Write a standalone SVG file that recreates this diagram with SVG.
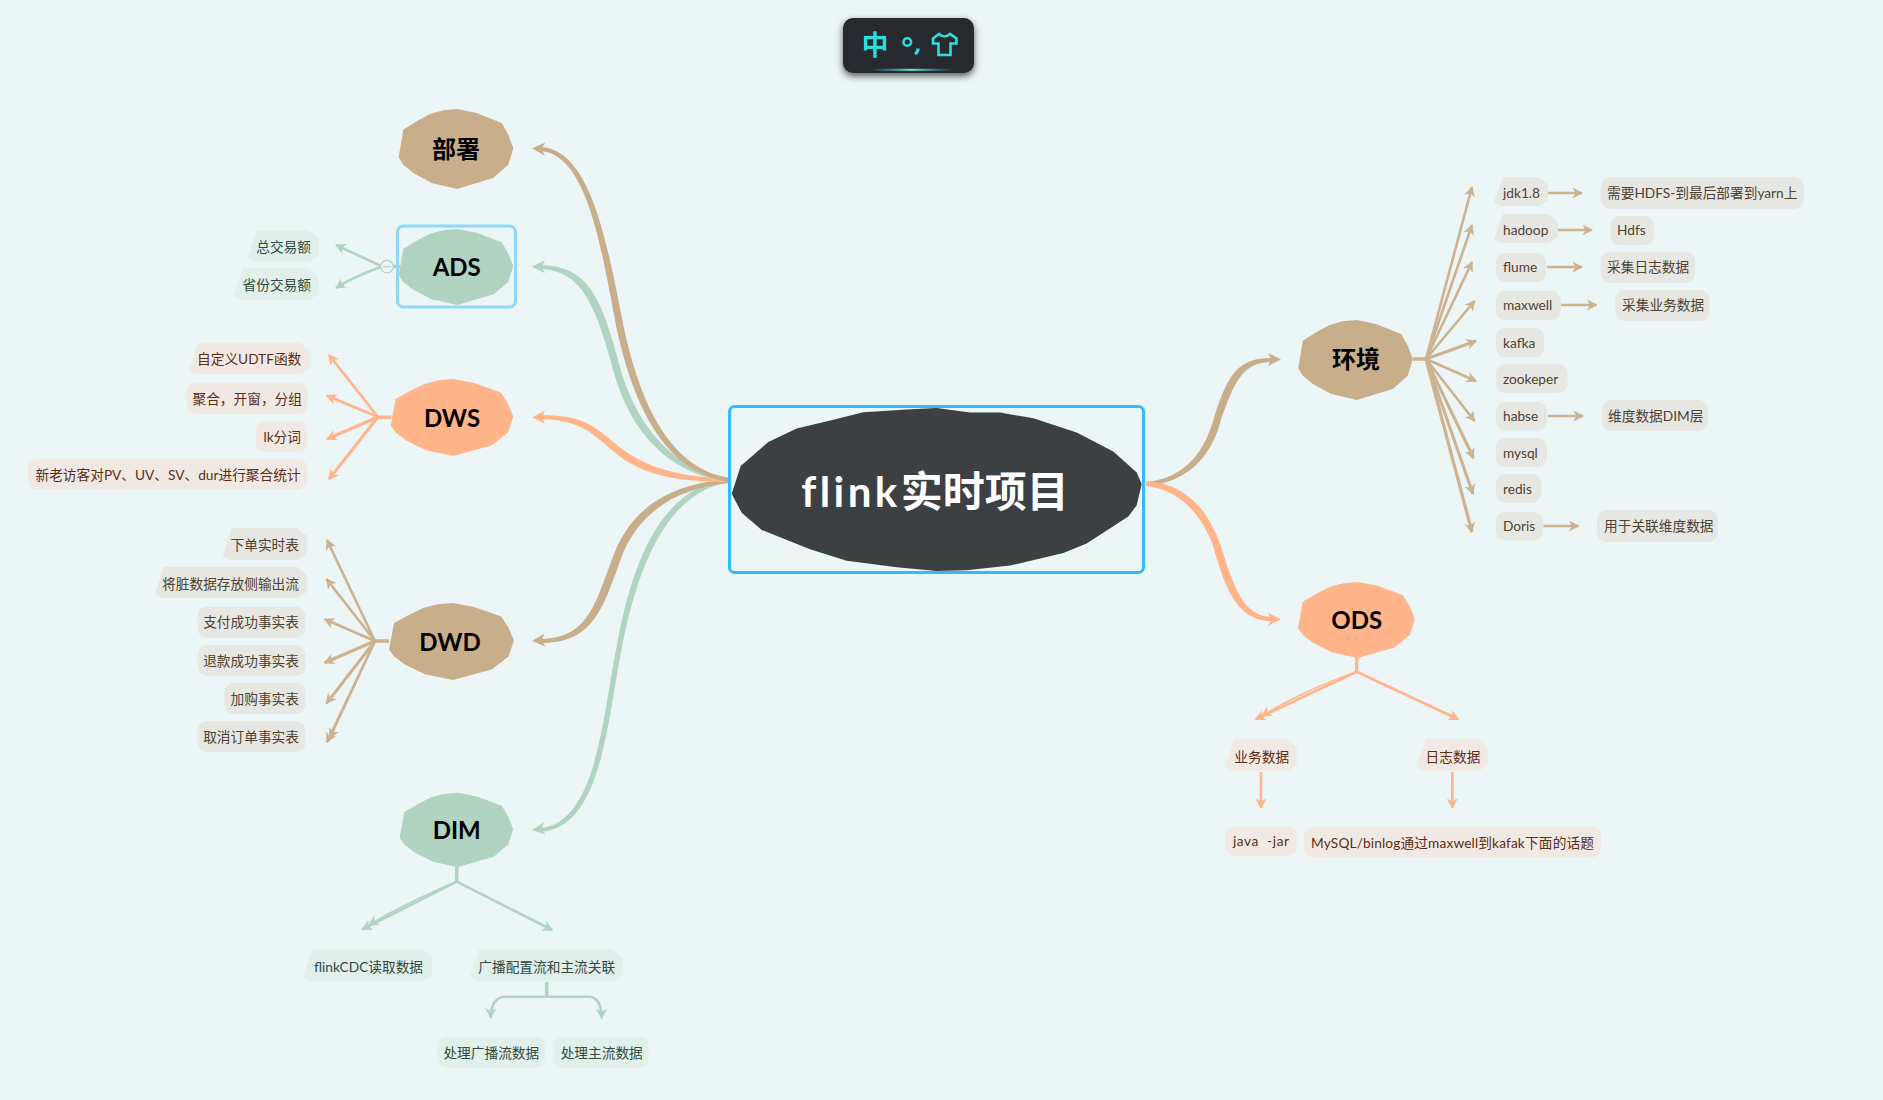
<svg xmlns="http://www.w3.org/2000/svg" width="1883" height="1100" viewBox="0 0 1883 1100">
<style>
text{font-family:"Lato","Noto Sans CJK SC","Noto Sans",sans-serif;dominant-baseline:central}
.l{font-size:13.7px;transform:translateY(-1px)}
.e{text-anchor:end}.m{text-anchor:middle}
.tt{fill:#4d4231}.ot{fill:#5c2c14}.gt{fill:#2f4a3f}
.tp{fill:#e7e8e3}.op{fill:#f1eae4}.gp{fill:#e2f0ec}
.hd{font-size:24px;font-weight:700;fill:#000;text-anchor:middle}
.tl{fill:none;stroke:#cdb28f;stroke-width:2.6;marker-end:url(#at)}
.ol{fill:none;stroke:#ffb48a;stroke-width:2.6;marker-end:url(#ao)}
.gl{fill:none;stroke:#b0d3c2;stroke-width:2.6;marker-end:url(#ag)}
.ts{fill:none;stroke:#cdb28f;stroke-width:3.5}
.os{fill:none;stroke:#ffb48a;stroke-width:3.5}
.gs{fill:none;stroke:#b0d3c2;stroke-width:3.5}
.tf{fill:#c9ae8c}.of{fill:#ffb48a}.gf{fill:#b0d3c2}
</style>
<defs>
<polygon id="blob" points="-57.3,8.3 -52.7,-19.3 -39.3,-27.7 -26,-35 -12.7,-38.7 1.3,-40 20.7,-36 45.7,-26 52.3,-14.3 57.3,-1 52.3,15.7 37.3,29 20.7,34 1.3,40 -24.3,34 -42.7,24 -52.7,15.7"/>
<path id="head" d="M0 0L-13 -6.5L-9.5 0L-13 6.5Z"/>
<marker id="at" markerUnits="userSpaceOnUse" markerWidth="12" markerHeight="12" refX="9.5" refY="5.5" orient="auto"><path d="M0 0L10.5 5.5L0 11L3 5.5Z" fill="#cdb28f"/></marker>
<marker id="ao" markerUnits="userSpaceOnUse" markerWidth="12" markerHeight="12" refX="9.5" refY="5.5" orient="auto"><path d="M0 0L10.5 5.5L0 11L3 5.5Z" fill="#ffb48a"/></marker>
<marker id="ag" markerUnits="userSpaceOnUse" markerWidth="12" markerHeight="12" refX="9.5" refY="5.5" orient="auto"><path d="M0 0L10.5 5.5L0 11L3 5.5Z" fill="#b0d3c2"/></marker>
<filter id="sh" x="-20%" y="-30%" width="140%" height="170%"><feDropShadow dx="0" dy="3" stdDeviation="3.5" flood-color="#000" flood-opacity=".65"/></filter>
<linearGradient id="gl"><stop offset="0" stop-color="#33dfe0" stop-opacity="0"/><stop offset=".5" stop-color="#5eeeee"/><stop offset="1" stop-color="#33dfe0" stop-opacity="0"/></linearGradient>
</defs>
<rect width="1883" height="1100" fill="#ecf6f7"/>

<g id="connectors">
<path class="gf" d="M730 482C678 490 643 542 622.5 644C607 722 602 827 541 832L541 828C597 822 602 718 617.5 642C637 538 672 486 730 478Z"/>
<path class="tf" d="M730 483C682 487 643 508 623.5 552C604 603 597 643 541 643L541 639C592 638 596 598 616.5 548C637 502 678 483 730 479Z"/>
<path class="gf" d="M730 482C678 476 636 442 616.5 381C597 312 586 271 541 269L541 265C594 266 604 308 623.5 379C644 438 682 472 730 478Z"/>
<path class="of" d="M730 482C688 482 647 478 618 455C593 435 583 420 541 419L541 415C587 415 597 429 622 449C653 472 692 478 730 478Z"/>
<path class="tf" d="M730 482C673 474 637 422 616.5 328C602 252 588 155 541 151L541 147C592 150 608 248 623.5 326C643 418 677 470 730 478Z"/>
<path class="tf" d="M1146 486C1192 482 1213 452 1221.5 418C1235 381 1243 362 1272 362L1272 358C1237 358 1228 375 1214.5 416C1206 448 1188 478 1146 482Z"/>
<path class="of" d="M1146 486C1183 490 1202 518 1212.5 544C1226 592 1238 621 1272 621L1272 617C1243 616 1234 588 1219.5 542C1208 512 1188 484 1146 481Z"/>
<g class="tf"><use href="#head" transform="translate(532 148.3) rotate(183)"/><use href="#head" transform="translate(532 641) rotate(176)"/><use href="#head" transform="translate(1281 359.5)"/></g>
<g class="gf"><use href="#head" transform="translate(532 266.7) rotate(180)"/><use href="#head" transform="translate(532 830) rotate(173)"/></g>
<g class="of"><use href="#head" transform="translate(532 417.3) rotate(180)"/><use href="#head" transform="translate(1281 619.3)"/></g>

<!-- 环境 -->
<path class="ts" d="M1413 359H1427"/>
<path class="tl" d="M1426 359L1472 187"/><path class="tl" d="M1426 359L1472 225"/><path class="tl" d="M1426 359L1472 262"/><path class="tl" d="M1426 359L1474.6 301"/>
<path class="tl" style="stroke-width:3" d="M1426 359L1476 341"/><path class="tl" d="M1426 359L1476 381"/><path class="tl" d="M1426 359L1474.6 421"/><path class="tl" style="stroke-width:3" d="M1426 359L1473.5 458"/><path class="tl" style="stroke-width:3" d="M1426 359L1473 494"/><path class="tl" style="stroke-width:3.2" d="M1426 359L1472 532"/>
<path class="tl" d="M1547 193H1582"/><path class="tl" d="M1556.5 230H1592"/><path class="tl" d="M1547 267H1582"/><path class="tl" d="M1561 305H1596.5"/><path class="tl" d="M1548 416H1583"/><path class="tl" d="M1543.5 526H1578.5"/>
<!-- ODS -->
<path class="os" d="M1356.7 657V672"/>
<path class="ol" d="M1356.7 671.7L1255.7 719.3"/><path class="ol" style="stroke-width:1.6" d="M1356.7 671.7Q1300 692 1262 716"/><path class="ol" d="M1356.7 671.7L1458.3 719.3"/>
<path class="ol" d="M1261 772V808"/><path class="ol" d="M1452.3 772V808"/>
<!-- ADS -->
<path class="gs" d="M393 266.5H400"/>
<path class="gl" d="M381 266L336 245"/><path class="gl" d="M381 267Q355 276 336 288"/>
<!-- DWS -->
<path class="os" d="M378 417.3H391"/>
<path class="ol" d="M378 417L329 355"/><path class="ol" d="M378 417L327 395.7"/><path class="ol" style="stroke-width:3" d="M378 417L327 439"/><path class="ol" style="stroke-width:3" d="M378 417L329 479.3"/>
<!-- DWD -->
<path class="ts" d="M375 641H389"/>
<path class="tl" d="M375 641L327 540"/><path class="tl" d="M375 641L326.5 579"/><path class="tl" d="M375 641L324.7 619.3"/><path class="tl" style="stroke-width:3.2" d="M375 641L324.7 662.7"/><path class="tl" style="stroke-width:3" d="M375 641L326.5 703.3"/><path class="tl" d="M375 641L327 742.3"/><path class="tl" style="stroke-width:1.6" d="M375 641Q352 692 330 738"/>
<!-- DIM -->
<path class="gs" d="M456.7 867V882"/>
<path class="gl" d="M456.7 881.7L362.3 929.3"/><path class="gl" style="stroke-width:1.6" d="M456.7 881.7Q405 903 369 925"/><path class="gl" d="M456.7 881.7L552.3 930"/>
<path class="gs" d="M546.7 982V997"/>
<path class="gl" d="M546.7 996.7H506Q491 996.7 490.7 1017.7"/><path class="gl" d="M546.7 996.7H588Q601.5 996.7 601.7 1018.3"/>
</g>

<g id="ime" filter="url(#sh)">
<rect x="843" y="18" width="131" height="55" rx="10" fill="#262b2e"/>
<rect x="870" y="68.8" width="83" height="2" fill="url(#gl)"/>
<text x="875" y="44" font-size="27" style="fill:#2fdcdc;font-weight:700;text-anchor:middle">中</text>
<circle cx="907.3" cy="42" r="3.8" fill="none" stroke="#2fdcdc" stroke-width="2.6"/>
<path d="M918 48.5Q918 52 915 54" fill="none" stroke="#2fdcdc" stroke-width="3.2"/>
<path d="M939 34L933 38.5L933 43.5L938.5 43.5L938.5 55H950.5L950.5 43.5L956.5 43.5L956.5 38.5L950 34Q944.5 39 939 34Z" fill="none" stroke="#2fdcdc" stroke-width="2.6"/>
</g>

<g id="center">
<polygon fill="#3c4043" points="731.7,493.7 740.7,466.1 768.3,442 796.7,428.6 833.3,419.8 863.3,412.2 906.7,409.5 936.7,408 970,412.5 1000,412.5 1033.3,418.3 1076.7,432.5 1113.3,451.6 1136.7,472.6 1141.7,484.1 1136.7,505.2 1128.3,516.6 1086.7,543.4 1063.3,553 1010,565.6 966.7,570.2 936.7,571 896.7,567.2 846.7,560.7 810,549.2 761.7,530 741.7,512.8"/>
<rect x="729.5" y="406.5" width="414" height="166" rx="5" fill="none" stroke="#2fbcff" stroke-width="3"/>
<text x="935" y="491" class="m" font-size="42" font-weight="700" fill="#fff"><tspan letter-spacing="3.4">flink</tspan>实时项目</text>
</g>

<g id="n-bushu"><use href="#blob" class="tf" transform="translate(456 149)"/><text x="456" y="148.5" class="hd">部署</text></g>
<g id="n-ads"><use href="#blob" class="gf" transform="translate(456 267) scale(1 .95)"/><rect x="397.5" y="226" width="118" height="81" rx="6" fill="none" stroke="#90d8fb" stroke-width="3"/><text x="456.7" y="266" class="hd">ADS</text>
<circle cx="387" cy="266.7" r="6.3" fill="#ecf6f7" stroke="#b0d3c2" stroke-width="1.2"/><path d="M383 266.7H391" stroke="#b0d3c2" stroke-width="1.2"/></g>
<g id="n-dws"><use href="#blob" class="of" transform="translate(452 417.5) scale(1.07 .96)"/><text x="452" y="417" class="hd">DWS</text></g>
<g id="n-dwd"><use href="#blob" class="tf" transform="translate(451.5 641.5) scale(1.09 .96)"/><text x="450" y="641" class="hd">DWD</text></g>
<g id="n-dim"><use href="#blob" class="gf" transform="translate(456.5 830) scale(.99 .93)"/><text x="456.7" y="829.5" class="hd">DIM</text></g>
<g id="n-env"><use href="#blob" class="tf" transform="translate(1355.5 360)"/><text x="1356" y="358.5" class="hd">环境</text></g>
<g id="n-ods"><use href="#blob" class="of" transform="translate(1356.5 620) scale(1.02 .95)"/><text x="1356.7" y="619" class="hd">ODS</text></g>

<g id="n-ads-1"><polygon class="gp" points="256.7,230 247.7,257.7 254.7,261.7 309.3,261.7 318.3,255.7 318.3,238 308.3,230"/><text x="311" y="247" class="l e gt">总交易额</text></g>
<g id="n-ads-2"><polygon class="gp" points="243,268 234,296 241,300 309.3,300 318.3,294 318.3,276 308.3,268"/><text x="311" y="285" class="l e gt">省份交易额</text></g>

<g id="n-dws-1"><polygon class="op" points="197.7,342.7 188.7,370.3 195.7,374.3 300.6,374.3 309.6,368.3 309.6,350.7 299.6,342.7"/><text x="301.3" y="359" class="l e ot">自定义UDTF函数</text></g>
<g id="n-dws-2"><rect class="op" x="186.6" y="382.7" width="121" height="31.3" rx="9"/><text x="302" y="399" class="l e ot">聚合，开窗，分组</text></g>
<g id="n-dws-3"><rect class="op" x="256" y="421" width="51.5" height="31" rx="9"/><text x="301" y="437" class="l e ot">lk分词</text></g>
<g id="n-dws-4"><rect class="op" x="28" y="459" width="279.5" height="31" rx="9"/><text x="300.6" y="475" class="l e ot">新老访客对PV、UV、SV、dur进行聚合统计</text></g>

<g id="n-dwd-1"><polygon class="tp" points="231.8,528 222.8,556 229.8,560 297.8,560 306.8,554 306.8,536 296.8,528"/><text x="299" y="545" class="l e tt">下单实时表</text></g>
<g id="n-dwd-2"><polygon class="tp" points="164,566.7 155,594 162,598 297.8,598 306.8,592 306.8,574.7 296.8,566.7"/><text x="299" y="584" class="l e tt">将脏数据存放侧输出流</text></g>
<g id="n-dwd-3"><rect class="tp" x="197.7" y="606.7" width="107.7" height="31" rx="9"/><text x="299" y="622" class="l e tt">支付成功事实表</text></g>
<g id="n-dwd-4"><rect class="tp" x="197.7" y="645" width="107.7" height="31" rx="9"/><text x="299" y="661" class="l e tt">退款成功事实表</text></g>
<g id="n-dwd-5"><rect class="tp" x="224.5" y="683" width="80.9" height="31" rx="9"/><text x="299" y="699" class="l e tt">加购事实表</text></g>
<g id="n-dwd-6"><rect class="tp" x="197.7" y="721" width="107.7" height="31" rx="9"/><text x="299" y="737" class="l e tt">取消订单事实表</text></g>

<g id="n-dim-1"><polygon class="gp" points="312.3,949.3 303.3,977 310.3,981 423.3,981 432.3,975 432.3,957.3 422.3,949.3"/><text x="368.5" y="967" class="l m gt">flinkCDC读取数据</text></g>
<g id="n-dim-2"><polygon class="gp" points="479,949.3 470,977 477,981 613.3,981 622.3,975 622.3,957.3 612.3,949.3"/><text x="546.7" y="967" class="l m gt">广播配置流和主流关联</text></g>
<g id="n-dim-3"><rect class="gp" x="437" y="1036.7" width="108" height="31" rx="9"/><text x="491.3" y="1053" class="l m gt">处理广播流数据</text></g>
<g id="n-dim-4"><rect class="gp" x="554" y="1036.7" width="94.7" height="31" rx="9"/><text x="601.7" y="1053" class="l m gt">处理主流数据</text></g>

<g id="n-ods-1"><polygon class="op" points="1234.3,739 1225.3,767 1232.3,771 1287.7,771 1296.7,765 1296.7,747 1286.7,739"/><text x="1261.7" y="757" class="l m ot">业务数据</text></g>
<g id="n-ods-2"><polygon class="op" points="1425.7,739 1416.7,767 1423.7,771 1478.7,771 1487.7,765 1487.7,747 1477.7,739"/><text x="1453" y="757" class="l m ot">日志数据</text></g>
<g id="n-ods-3"><rect class="op" x="1225.3" y="826.7" width="71.4" height="29" rx="9"/><text x="1261" y="841" class="l m ot" xml:space="preserve" textLength="56">java  -jar</text></g>
<g id="n-ods-4"><rect class="op" x="1304" y="826.7" width="297" height="31" rx="9"/><text x="1452.5" y="843" class="l m ot" textLength="283">MySQL/binlog通过maxwell到kafak下面的话题</text></g>

<g id="n-jdk"><polygon class="tp" points="1503,177 1494,202 1501,206 1539,206 1548,200 1548,185 1538,177"/><text x="1503" y="193" class="l tt">jdk1.8</text></g>
<g id="n-hadoop"><polygon class="tp" points="1503,214 1494,239 1501,243 1549,243 1558,237 1558,222 1548,214"/><text x="1503" y="230" class="l tt">hadoop</text></g>
<g id="n-flume"><rect class="tp" x="1496" y="253" width="50" height="29" rx="9"/><text x="1503" y="267" class="l tt">flume</text></g>
<g id="n-maxwell"><rect class="tp" x="1496" y="291" width="65" height="29" rx="9"/><text x="1503" y="305" class="l tt">maxwell</text></g>
<g id="n-kafka"><rect class="tp" x="1496" y="328" width="48" height="29" rx="9"/><text x="1503" y="343" class="l tt">kafka</text></g>
<g id="n-zoo"><rect class="tp" x="1496" y="364" width="71.5" height="29" rx="9"/><text x="1503" y="379" class="l tt">zookeper</text></g>
<g id="n-habse"><rect class="tp" x="1496" y="402" width="51" height="28.5" rx="9"/><text x="1503" y="416" class="l tt">habse</text></g>
<g id="n-mysql"><rect class="tp" x="1496" y="438" width="51" height="29" rx="9"/><text x="1503" y="453" class="l tt">mysql</text></g>
<g id="n-redis"><rect class="tp" x="1496" y="474" width="45" height="29" rx="9"/><text x="1503" y="489" class="l tt">redis</text></g>
<g id="n-doris"><rect class="tp" x="1496" y="512" width="47" height="28.5" rx="9"/><text x="1503" y="526" class="l tt">Doris</text></g>

<g id="n-jdk-1"><rect class="tp" x="1600.6" y="177" width="203.4" height="32" rx="10"/><text x="1607" y="193" class="l tt">需要HDFS-到最后部署到yarn上</text></g>
<g id="n-hadoop-1"><rect class="tp" x="1610.6" y="216" width="43.4" height="29" rx="9"/><text x="1617" y="230" class="l tt">Hdfs</text></g>
<g id="n-flume-1"><rect class="tp" x="1600.6" y="252" width="94.4" height="31" rx="9"/><text x="1607" y="267" class="l tt">采集日志数据</text></g>
<g id="n-maxwell-1"><rect class="tp" x="1615.4" y="290" width="94" height="31" rx="9"/><text x="1622" y="305" class="l tt">采集业务数据</text></g>
<g id="n-habse-1"><rect class="tp" x="1602" y="400" width="106" height="31" rx="9"/><text x="1608" y="416" class="l tt">维度数据DIM层</text></g>
<g id="n-doris-1"><rect class="tp" x="1597" y="510" width="121" height="32" rx="9"/><text x="1604" y="526" class="l tt">用于关联维度数据</text></g>
</svg>
